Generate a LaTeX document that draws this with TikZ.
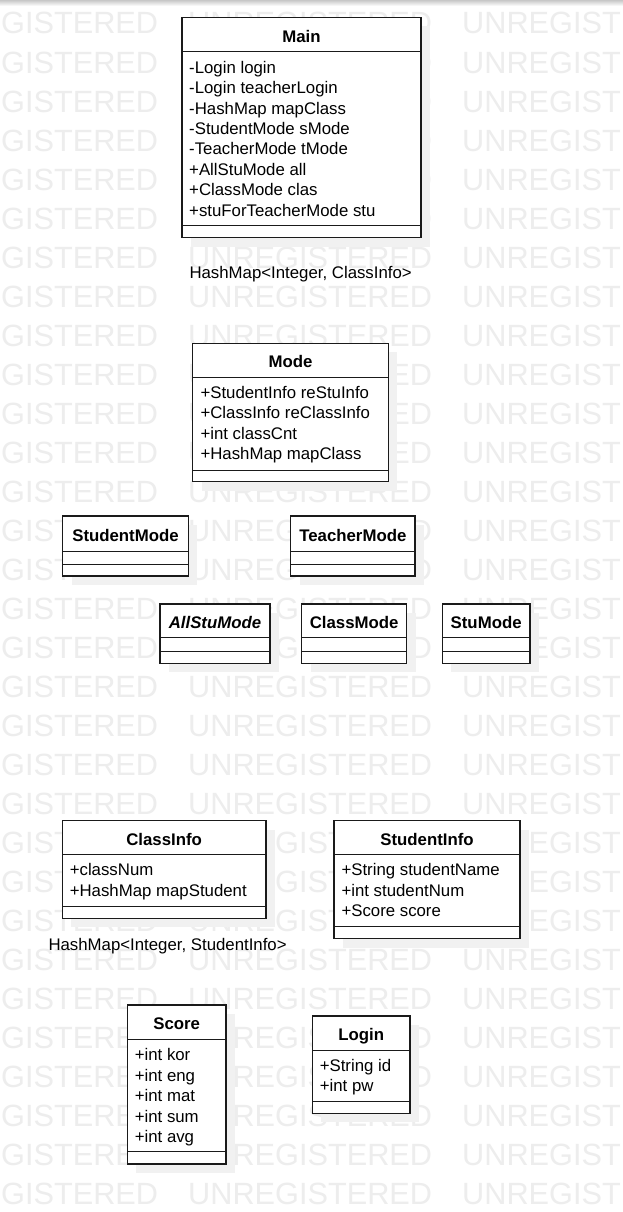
\documentclass[tikz,border=0pt]{standalone}
\usepackage{fontspec}
\setmainfont{Liberation Sans}
\definecolor{wm}{HTML}{EDEDED}
\definecolor{shade}{HTML}{F1F1F1}
\definecolor{ink}{HTML}{1A1A1A}
\tikzset{
  attr/.style={anchor=base west, inner sep=0pt, font=\fontsize{16.8}{20.4}\selectfont, text=black},
  ctitle/.style={anchor=base, inner sep=0pt, font=\fontsize{16.8}{20.4}\selectfont\bfseries, text=black},
  cbox/.style={draw=ink, line width=1.3pt, fill=white, inner sep=0pt, outer sep=0pt, anchor=north west},
  cdiv/.style={draw=ink, line width=1pt},
  cshadow/.style={fill=shade},
  wmark/.style={anchor=base west, inner sep=0pt, text=wm, font=\fontsize{30.7}{30.7}\selectfont},
  note/.style={anchor=base west, inner sep=0pt, font=\fontsize{16.8}{20.4}\selectfont, text=black}
}
% name, left, top, right, bottom, divider1, divider2, title
\newcommand\umlbox[8]{%
  \fill[cshadow] (#2+9,#3+9) rectangle (#4+9,#5+9);
  \pgfmathsetmacro\bw{#4-#2}\pgfmathsetmacro\bh{#5-#3}
  \node[cbox, minimum width=\bw pt, minimum height=\bh pt] (#1) at (#2,#3) {};
  \draw[cdiv] (#2,#6) -- (#4,#6);
  \draw[cdiv] (#2,#7) -- (#4,#7);
  \pgfmathsetmacro\tx{(#2+#4)/2}\pgfmathsetmacro\ty{(#3+#6)/2+7.8}
  \node[ctitle] (#1-title) at (\tx,\ty) {#8};
}
% name, x, first baseline, list
\newcommand\umlattrs[4]{%
  \foreach \t [count=\i from 0] in {#4} {
    \node[attr] (#1-a\i) at (#2,#3+20.4*\i) {\t};
  }
}
\begin{document}
\begin{tikzpicture}[x=1pt,y=-1pt]
\useasboundingbox (0,0) rectangle (623,1212);
\clip (0,0) rectangle (623,1212);
\fill[white] (0,0) rectangle (623,1212);
\shade[top color=black!22, bottom color=white] (0,0) rectangle (623,6);
% watermark
\foreach \k in {0,...,30} {
  \pgfmathsetmacro\wy{34+39.03*\k}
  \foreach \wx [count=\c] in {-86,188,462} {
    \node[wmark] (wm-\k-\c) at (\wx,\wy) {UNREGISTERED};
  }
}
% classes
\umlbox{main}{182}{17.5}{421}{237.5}{52}{225.5}{Main}
\umlattrs{main}{189}{73.3}{-Login login,-Login teacherLogin,-HashMap mapClass,-StudentMode sMode,-TeacherMode tMode,+AllStuMode all,+ClassMode clas,+stuForTeacherMode stu}
\node[note] (hm1) at (189.3,278.3) {HashMap<Integer, ClassInfo>};

\umlbox{mode}{192.7}{343.3}{388.3}{481.7}{377}{470}{Mode}
\umlattrs{mode}{200.3}{398.3}{+StudentInfo reStuInfo,+ClassInfo reClassInfo,+int classCnt,+HashMap mapClass}

\umlbox{studentmode}{62.7}{516}{188.3}{576}{551.3}{564}{StudentMode}
\umlbox{teachermode}{290.7}{516}{415}{576}{551.3}{564}{TeacherMode}

\umlbox{allstumode}{160}{604}{270}{663.3}{637.7}{651.7}{\itshape AllStuMode}
\umlbox{classmode}{301.7}{604}{406.7}{663.3}{637.7}{651.7}{ClassMode}
\umlbox{stumode}{442.3}{604}{530}{663.3}{637.7}{651.7}{StuMode}

\umlbox{classinfo}{62.3}{820.7}{266}{918.3}{854.3}{906.7}{ClassInfo}
\umlattrs{classinfo}{69.6}{875.7}{+classNum,+HashMap mapStudent}
\node[note] (hm2) at (48.3,950) {HashMap<Integer, StudentInfo>};

\umlbox{studentinfo}{334}{820.7}{520}{938.7}{854.3}{926.7}{StudentInfo}
\umlattrs{studentinfo}{341.3}{875.7}{+String studentName,+int studentNum,+Score score}

\umlbox{score}{127.3}{1005}{226}{1164}{1039.3}{1151.7}{Score}
\umlattrs{score}{134.6}{1060.8}{+int kor,+int eng,+int mat,+int sum,+int avg}

\umlbox{login}{312.3}{1016}{410}{1113.3}{1050}{1101.7}{Login}
\umlattrs{login}{319.6}{1071.3}{+String id,+int pw}
\end{tikzpicture}
\end{document}
